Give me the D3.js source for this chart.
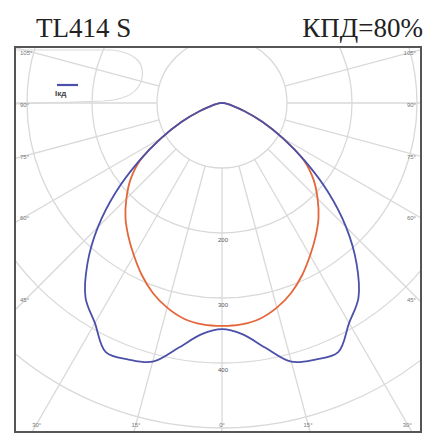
<!DOCTYPE html>
<html><head><meta charset="utf-8">
<script src="https://cdn.jsdelivr.net/npm/d3@7"></script>
<style>html,body{margin:0;padding:0;background:#fff;}svg{display:block;}</style>
</head><body>
<script>
// Data (cd values), angles in degrees from nadir
const angles = [0,5,10,15,20,25,30,35,40,45,50,55,60,65,70,75,80,85,90];
const blueValues = [348,357,382,412,420,423,391,366,322,270,213,156,108,69,37,17,8,3,0];
const redValues  = [343,342,337,326,311,292,271,251,231,208,184,154,108,69,37,17,8,3,0];
const ringValues = [100,200,300,400,500];
const ringLabels = ["200","300","400"];
const ringLabelValues = [200,300,400];
const gridAngles = [-105,-90,-75,-60,-45,-30,-15,0,15,30,45,60,75,90,105];
const title = "TL414 S";
const effText = "КПД=80%";

const W = 426, H = 439;
const frame = {x0:15, y0:47, x1:421, y1:432};
const cx = 222, cy = 103;
const r = d3.scaleLinear().domain([0,400]).range([0,260]);

const svg = d3.select("body").append("svg").attr("width",W).attr("height",H);
svg.append("defs").append("clipPath").attr("id","clip")
  .append("rect").attr("x",frame.x0).attr("y",frame.y0)
  .attr("width",frame.x1-frame.x0).attr("height",frame.y1-frame.y0);

const g = svg.append("g").attr("clip-path","url(#clip)");
const pg = g.append("g").attr("transform",`translate(${cx},${cy})`);

// rings
pg.selectAll("circle.ring").data(ringValues).join("circle")
  .attr("r",d=>r(d)).attr("fill","none").attr("stroke","#d9d9d9").attr("stroke-width",1.3);

// radial lines (starting at first ring)
const rad = a => a*Math.PI/180;
pg.selectAll("line.spoke").data(gridAngles).join("line")
  .attr("x1",d=>r(ringValues[0])*Math.sin(rad(d)))
  .attr("y1",d=>r(ringValues[0])*Math.cos(rad(d)))
  .attr("x2",d=>800*Math.sin(rad(d)))
  .attr("y2",d=>800*Math.cos(rad(d)))
  .attr("stroke","#d9d9d9").attr("stroke-width",1.3);

// legend outline
g.append("path")
  .attr("d","M15,50 L112,50 Q146,54 142,78 Q138,99 104,101 L15,104")
  .attr("fill","none").attr("stroke","#dadada").attr("stroke-width",1.2);
g.append("line").attr("x1",57).attr("x2",78).attr("y1",85).attr("y2",85)
  .attr("stroke","#4b50a8").attr("stroke-width",2.2);
g.append("text").attr("x",55).attr("y",96).attr("font-family","Liberation Sans")
  .attr("font-size",8).attr("font-weight","bold").attr("fill","#444").text("Iкд");

// ring labels
pg.selectAll("text.rl").data(ringLabelValues).join("text")
  .attr("x",1).attr("y",d=>r(d)+9).attr("text-anchor","middle")
  .attr("font-family","Liberation Sans").attr("font-size",6).attr("fill","#555")
  .text((d,i)=>ringLabels[i]);

// curves
const sym = (vals) => {
  const pts = [];
  for (let i = angles.length-1; i >= 0; i--) pts.push([-rad(angles[i]), vals[i]]);
  for (let i = 1; i < angles.length; i++) pts.push([rad(angles[i]), vals[i]]);
  return pts;
};
const line = d3.lineRadial().angle(d=>Math.PI - d[0]).radius(d=>r(d[1])).curve(d3.curveCatmullRom.alpha(0.5));
pg.append("path").attr("d",line(sym(redValues))).attr("fill","none")
  .attr("stroke","#e5663a").attr("stroke-width",1.8);
pg.append("path").attr("d",line(sym(blueValues))).attr("fill","none")
  .attr("stroke","#4b50a8").attr("stroke-width",1.8);

// frame
svg.append("rect").attr("x",frame.x0).attr("y",frame.y0)
  .attr("width",frame.x1-frame.x0).attr("height",frame.y1-frame.y0)
  .attr("fill","none").attr("stroke","#555").attr("stroke-width",2);

// angle labels on sides
const sideAngles = [105,90,75,60,45];
const lab = svg.append("g").attr("font-family","Liberation Sans").attr("font-size",6).attr("fill","#777");
sideAngles.forEach(a=>{
  const y = cy + (cx-frame.x0-12)*Math.cos(rad(a))/Math.sin(rad(a));
  lab.append("text").attr("x",frame.x0+5).attr("y",y+4).text(a+"°");
  lab.append("text").attr("x",frame.x1-5).attr("y",y+4).attr("text-anchor","end").text(a+"°");
});
[-30,-15,0,15,30].forEach(a=>{
  const x = cx + (frame.y1-cy-8)*Math.tan(rad(a));
  lab.append("text").attr("x",Math.max(frame.x0+8,Math.min(frame.x1-8,x))).attr("y",frame.y1-5)
    .attr("text-anchor","middle").text(Math.abs(a)+"°");
});

// title
svg.append("text").attr("x",36).attr("y",37).attr("font-family","Liberation Serif")
  .attr("font-size",27).attr("fill","#222").text(title);
svg.append("text").attr("x",423).attr("y",37).attr("text-anchor","end").attr("font-family","Liberation Serif")
  .attr("font-size",27).attr("fill","#222").text(effText);
</script>
</body></html>
